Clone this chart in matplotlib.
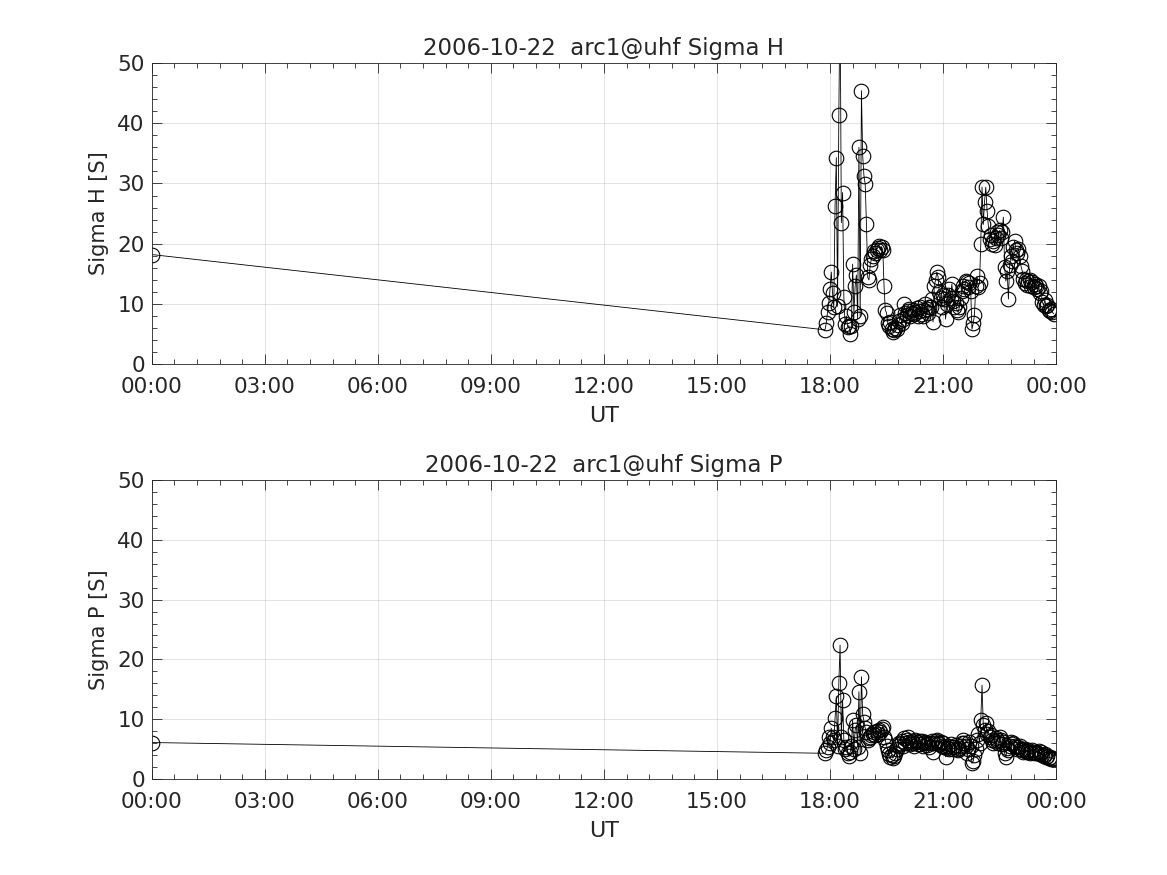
import matplotlib
matplotlib.use("Agg")
import matplotlib.pyplot as plt
from matplotlib.ticker import MultipleLocator

# sample times, minutes after 00:00 UT (first sample, then the evening run)
minutes = [0,
           1072, 1074, 1076, 1078, 1080, 1082, 1084, 1086, 1088, 1090,
           1092, 1094, 1096, 1098, 1100, 1102, 1104, 1106, 1108, 1110,
           1112, 1114, 1116, 1118, 1120, 1122, 1124, 1126, 1128, 1130,
           1132, 1134, 1136, 1138, 1140, 1142, 1144, 1146, 1148, 1150,
           1152, 1154, 1156, 1158, 1160, 1162, 1164, 1166, 1168, 1170,
           1172, 1174, 1176, 1178, 1180, 1182, 1184, 1186, 1188, 1190,
           1192, 1194, 1196, 1198, 1200, 1202, 1204, 1206, 1208, 1210,
           1212, 1214, 1216, 1218, 1220, 1222, 1224, 1226, 1228, 1230,
           1232, 1234, 1236, 1238, 1240, 1242, 1244, 1246, 1248, 1250,
           1252, 1254, 1256, 1258, 1260, 1262, 1264, 1266, 1268, 1270,
           1272, 1274, 1276, 1278, 1280, 1282, 1284, 1286, 1288, 1290,
           1292, 1294, 1296, 1298, 1300, 1302, 1304, 1306, 1308, 1310,
           1312, 1314, 1316, 1318, 1320, 1322, 1324, 1326, 1328, 1330,
           1332, 1334, 1336, 1338, 1340, 1342, 1344, 1346, 1348, 1350,
           1352, 1354, 1356, 1358, 1360, 1362, 1364, 1366, 1368, 1370,
           1372, 1374, 1376, 1378, 1380, 1382, 1384, 1386, 1388, 1390,
           1392, 1394, 1396, 1398, 1400, 1402, 1404, 1406, 1408, 1410,
           1412, 1414, 1416, 1418, 1420, 1422, 1424, 1426, 1428, 1430,
           1432, 1434, 1436]

sigma_h = [18.2,
           5.7, 6.8, 8.6, 10.2, 12.5, 15.3, 11.8, 9.5, 26.3, 34.3,
           9.6, 41.3, 62.0, 23.5, 28.5, 11.1, 6.6, 8.0, 6.2, 6.4,
           5.0, 6.3, 16.6, 8.6, 13.0, 14.8, 7.5, 36.0, 8.0, 45.4,
           34.6, 31.3, 29.9, 23.2, 14.4, 14.0, 16.5, 17.5, 18.0, 18.8,
           18.5, 19.0, 19.3, 19.6, 18.9, 19.5, 19.0, 12.9, 9.0, 8.5,
           6.8, 6.3, 7.0, 5.8, 5.4, 5.6, 6.0, 5.9, 6.5, 7.2,
           8.1, 6.8, 7.5, 10.0, 8.5, 8.2, 8.8, 9.2, 8.0, 8.5,
           9.0, 8.3, 8.6, 9.4, 8.0, 8.8, 9.5, 8.4, 8.0, 9.0,
           10.0, 9.2, 8.5, 9.5, 9.5, 10.8, 7.0, 13.0, 14.0, 15.3,
           14.5, 12.0, 11.0, 9.5, 11.5, 10.8, 7.5, 10.0, 11.5, 12.5,
           11.0, 13.3, 10.5, 9.5, 10.2, 9.0, 8.6, 9.5, 11.0, 12.2,
           13.0, 12.5, 13.8, 13.6, 12.8, 13.4, 12.1, 5.8, 6.8, 8.2,
           13.0, 14.6, 12.8, 13.5, 20.0, 29.4, 23.2, 27.0, 29.4, 25.5,
           23.0, 20.8, 21.5, 20.0, 20.5, 19.8, 21.0, 22.0, 21.5, 22.2,
           21.0, 22.0, 24.4, 16.1, 13.8, 15.5, 10.8, 16.5, 18.0, 17.2,
           19.5, 20.5, 19.0, 18.5, 19.1, 18.0, 16.3, 15.5, 14.1, 13.5,
           14.0, 13.2, 13.8, 14.0, 13.0, 13.6, 12.8, 13.3, 13.0, 12.4,
           13.0, 11.8, 12.2, 10.3, 9.8, 10.6, 9.6, 9.9, 9.0, 8.8,
           9.2, 8.6, 8.4]

sigma_p = [6.1,
           4.3, 4.8, 5.4, 7.1, 6.0, 8.5, 7.0, 6.5, 10.2, 13.8,
           5.5, 16.0, 22.4, 7.0, 13.2, 6.5, 5.0, 5.4, 4.3, 3.8,
           4.5, 5.5, 9.9, 5.0, 8.2, 9.0, 5.4, 14.6, 4.3, 17.1,
           10.8, 9.6, 8.5, 7.9, 6.5, 6.8, 7.1, 7.3, 7.5, 7.8,
           7.4, 8.0, 7.6, 8.2, 7.8, 8.4, 8.7, 7.1, 6.5, 5.6,
           4.8, 4.2, 3.7, 4.0, 3.5, 3.8, 4.3, 5.0, 5.6, 6.0,
           5.8, 6.3, 5.5, 6.8, 6.0, 6.5, 7.1, 6.2, 5.8, 6.4,
           6.0, 5.6, 6.5, 6.2, 5.9, 6.4, 5.8, 6.3, 5.5, 6.0,
           6.2, 5.7, 6.0, 5.3, 6.0, 6.3, 4.6, 6.0, 6.4, 6.5,
           6.0, 5.8, 6.2, 5.5, 6.0, 5.4, 3.7, 5.2, 5.6, 5.0,
           5.8, 5.4, 5.0, 5.3, 5.7, 5.0, 4.8, 5.2, 5.6, 6.0,
           6.5, 6.0, 5.5, 4.3, 5.0, 6.2, 5.5, 2.6, 3.0, 4.0,
           5.0, 6.5, 7.6, 6.0, 9.9, 15.7, 9.0, 8.2, 9.3, 7.5,
           8.0, 7.0, 7.4, 6.5, 6.0, 6.3, 6.8, 6.5, 6.0, 7.1,
           6.5, 5.8, 6.2, 4.3, 3.7, 5.2, 4.8, 5.5, 6.2, 5.8,
           6.0, 5.6, 5.4, 5.0, 5.3, 5.6, 5.1, 4.8, 4.6, 5.0,
           4.7, 4.5, 4.8, 4.4, 4.6, 4.9, 4.5, 4.3, 4.6, 4.4,
           4.7, 4.2, 4.5, 4.0, 3.8, 4.2, 3.6, 3.9, 3.5, 3.7,
           3.4, 3.5, 3.3]

tick_hours = [0, 3, 6, 9, 12, 15, 18, 21, 24]
tick_labels = ["00:00", "03:00", "06:00", "09:00", "12:00",
               "15:00", "18:00", "21:00", "00:00"]
date_str = "2006-10-22"

hours = [m / 60.0 for m in minutes]

plt.rcParams['font.family'] = ['DejaVu Sans']
TXT = '#262626'

fig = plt.figure(figsize=(11.67, 8.75), dpi=100)
ax_h = fig.add_axes([0.13, 0.5838, 0.775, 0.3442])
ax_p = fig.add_axes([0.13, 0.1097, 0.775, 0.3417])

panels = [(ax_h, sigma_h, 'H'), (ax_p, sigma_p, 'P')]
for ax, vals, name in panels:
    ax.plot(hours, vals, color='k', lw=0.6, marker='o', ms=10.5,
            mfc='none', mec='k', mew=0.8)
    ax.set_xlim(0, 24)
    ax.set_ylim(0, 50)
    ax.set_xticks(tick_hours)
    ax.set_xticklabels(tick_labels)
    ax.xaxis.set_minor_locator(MultipleLocator(0.6))
    ax.yaxis.set_major_locator(MultipleLocator(10))
    ax.yaxis.set_minor_locator(MultipleLocator(2))
    ax.tick_params(which='both', direction='in', top=True, right=True,
                   colors=TXT, labelcolor=TXT, labelsize=15.5, width=0.6)
    ax.tick_params(which='major', length=7)
    ax.tick_params(which='minor', length=3.5)
    ax.tick_params(axis='x', which='major', pad=9.5)
    ax.tick_params(axis='y', which='major', pad=5)
    ax.grid(True, which='major', color=TXT, alpha=0.15, lw=0.6)
    for sp in ax.spines.values():
        sp.set_color(TXT)
        sp.set_linewidth(0.6)
    ax.set_title(f"{date_str}  arc1@uhf Sigma {name}", fontsize=16.5,
                 color=TXT, pad=6)
    ax.set_xlabel("UT", fontsize=16, color=TXT, labelpad=6)
    ax.set_ylabel(f"Sigma {name} [S]", fontsize=15, color=TXT, labelpad=6)

fig.savefig("out.png", dpi=100)
